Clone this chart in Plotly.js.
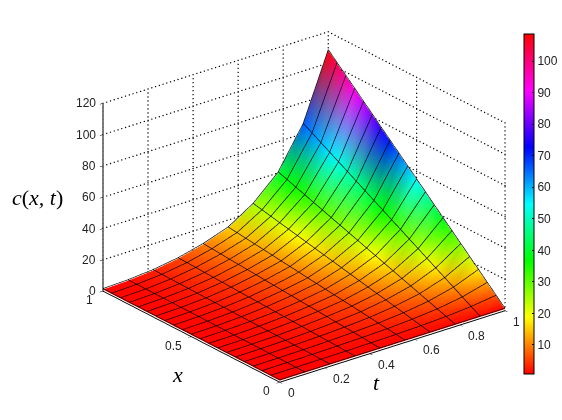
<!DOCTYPE html>
<html>
<head>
<meta charset="utf-8">
<script src="https://cdn.plot.ly/plotly-3.0.1.min.js"></script>
<style>
html, body { margin: 0; padding: 0; background: #fff; }
#graph { width: 562px; height: 420px; }
</style>
</head>
<body>
<div id="graph"></div>
<script>
// grid of the surface
var tGrid = [0, 0.1111, 0.2222, 0.3333, 0.4444, 0.5556, 0.6667, 0.7778, 0.8889, 1];
var xGrid = [0, 0.05, 0.1, 0.15, 0.2, 0.25, 0.3, 0.35, 0.4, 0.45, 0.5, 0.55, 0.6, 0.65, 0.7, 0.75, 0.8, 0.85, 0.9, 0.95, 1];

// c(x,t), one row for each x
var cValues = [
    [1, 1, 1, 1, 1, 1, 1, 1, 1, 1],
    [1, 1, 1.1, 1.2, 1.4, 1.7, 2.2, 3, 4.3, 6.4],
    [1, 1.1, 1.2, 1.5, 1.9, 2.4, 3.4, 4.9, 7.5, 11.7],
    [1, 1.1, 1.3, 1.7, 2.3, 3.1, 4.6, 6.9, 10.8, 17.1],
    [1, 1.1, 1.4, 1.9, 2.7, 3.8, 5.8, 8.8, 14, 22.4],
    [1, 1.2, 1.5, 2.1, 3.1, 4.5, 7, 10.8, 17.3, 27.8],
    [1, 1.2, 1.6, 2.4, 3.6, 5.2, 8.2, 12.7, 20.5, 33.1],
    [1, 1.2, 1.7, 2.6, 4, 5.9, 9.4, 14.7, 23.8, 38.5],
    [1, 1.2, 1.8, 2.8, 4.4, 6.6, 10.6, 16.6, 27, 43.8],
    [1, 1.3, 1.9, 3, 4.8, 7.3, 11.8, 18.6, 30.3, 49.2],
    [1, 1.3, 2, 3.3, 5.3, 8, 13, 20.5, 33.5, 54.5],
    [1, 1.3, 2.1, 3.5, 5.7, 8.7, 14.2, 22.5, 36.8, 59.9],
    [1, 1.4, 2.2, 3.7, 6.1, 9.4, 15.4, 24.4, 40, 65.2],
    [1, 1.4, 2.3, 3.9, 6.5, 10.1, 16.6, 26.4, 43.3, 70.6],
    [1, 1.4, 2.4, 4.2, 7, 10.8, 17.8, 28.3, 46.5, 75.9],
    [1, 1.5, 2.5, 4.4, 7.4, 11.5, 19, 30.3, 49.8, 81.3],
    [1, 1.5, 2.6, 4.6, 7.8, 12.2, 20.2, 32.2, 53, 86.6],
    [1, 1.5, 2.7, 4.8, 8.2, 12.9, 21.4, 34.2, 56.3, 92],
    [1, 1.5, 2.8, 5.1, 8.7, 13.6, 22.6, 36.1, 59.5, 97.3],
    [1, 1.6, 2.9, 5.3, 9.1, 14.3, 23.8, 38.1, 62.8, 102.7],
    [1, 1.6, 3, 5.5, 9.5, 15, 25, 40, 66, 108]
];

var tTicks = [0, 0.2, 0.4, 0.6, 0.8, 1];
var xTicks = [0, 0.5, 1];
var zTicks = [0, 20, 40, 60, 80, 100, 120];
var barTicks = [10, 20, 30, 40, 50, 60, 70, 80, 90, 100];

var cMin = 0.8, cMax = 108.6;

// matlab hsv colormap
var hsv = [[0, '#ff0000'], [1 / 6, '#ffff00'], [1 / 3, '#00ff00'], [0.5, '#00ffff'],
           [2 / 3, '#0000ff'], [5 / 6, '#ff00ff'], [1, '#ff0000']];
var hsvRgb = [[255, 0, 0], [255, 255, 0], [0, 255, 0], [0, 255, 255], [0, 0, 255], [255, 0, 255], [255, 0, 0]];

function colorOf(c) {
    var p = (c - cMin) / (cMax - cMin) * 6;
    var i = Math.min(Math.floor(p), 5), f = p - i;
    var a = hsvRgb[i], b = hsvRgb[i + 1];
    return 'rgb(' + [0, 1, 2].map(function(k) { return Math.round(a[k] + (b[k] - a[k]) * f); }).join(',') + ')';
}

// the surface is a mesh so the colours blend in rgb between the nodes, like the old matlab renderer
var nx = xGrid.length, nt = tGrid.length;
var px = [], py = [], pz = [], pc = [], fi = [], fj = [], fk = [];
xGrid.forEach(function(x, r) {
    tGrid.forEach(function(t, s) {
        px.push(t);
        py.push(x);
        pz.push(cValues[r][s]);
        pc.push(colorOf(cValues[r][s]));
        if (r < nx - 1 && s < nt - 1) {
            var n = r * nt + s;
            fi.push(n, n);
            fj.push(n + 1, n + nt + 1);
            fk.push(n + nt + 1, n + nt);
        }
    });
});

var surface = {
    type: 'mesh3d',
    x: px, y: py, z: pz,
    i: fi, j: fj, k: fk,
    vertexcolor: pc,
    hoverinfo: 'skip',
    lighting: { ambient: 1, diffuse: 0, specular: 0, roughness: 1, fresnel: 0 }
};

// black mesh lines, lifted a little so they stay above the faces
var lift = 0.6;
var lx = [], ly = [], lz = [];
xGrid.forEach(function(x, r) {
    tGrid.forEach(function(t, s) {
        lx.push(t); ly.push(x); lz.push(cValues[r][s] + lift);
    });
    lx.push(null); ly.push(null); lz.push(null);
});
tGrid.forEach(function(t, s) {
    xGrid.forEach(function(x, r) {
        lx.push(t); ly.push(x); lz.push(cValues[r][s] + lift);
    });
    lx.push(null); ly.push(null); lz.push(null);
});
var meshLines = {
    type: 'scatter3d', mode: 'lines', x: lx, y: ly, z: lz,
    line: { color: '#000', width: 1.3 },
    hoverinfo: 'skip', showlegend: false
};

// only here for the colour bar
var barTrace = {
    type: 'scatter3d', mode: 'markers',
    x: [tGrid[0]], y: [xGrid[0]], z: [cValues[0][0]],
    hoverinfo: 'skip', showlegend: false,
    marker: {
        size: 1, opacity: 0, color: [cValues[0][0]],
        colorscale: hsv, cmin: cMin, cmax: cMax, showscale: true,
        colorbar: {
            x: 532 / 562, xanchor: 'left',
            y: (420 - 374) / 420, yanchor: 'bottom',
            len: 340 / 420, lenmode: 'fraction',
            thickness: 10, thicknessmode: 'pixels',
            outlinewidth: 1, outlinecolor: '#000',
            tickvals: barTicks, ticks: 'inside', ticklen: 2, tickcolor: '#000',
            tickfont: { family: 'Liberation Sans', size: 12, color: '#222' },
            xpad: 2, ypad: 0
        }
    }
};

// dotted grid on the two back walls, the dash of scatter3d comes out too long so these are small dots
var dx = [], dy = [], dz = [];
function addDots(x0, y0, z0, x1, y1, z1, count) {
    for (var d = 0; d <= count; d++) {
        var f = d / count;
        dx.push(x0 + (x1 - x0) * f);
        dy.push(y0 + (y1 - y0) * f);
        dz.push(z0 + (z1 - z0) * f);
    }
}
zTicks.forEach(function(z) {
    addDots(0, 1, z, 1, 1, z, 60);
    addDots(1, 1, z, 1, 0, z, 52);
});
tTicks.forEach(function(t) { addDots(t, 1, 0, t, 1, 120, 47); });
xTicks.forEach(function(x) { addDots(1, x, 0, 1, x, 120, 47); });
var gridDots = {
    type: 'scatter3d', mode: 'markers', x: dx, y: dy, z: dz,
    marker: { size: 0.8, color: '#000', line: { width: 0 } },
    hoverinfo: 'skip', showlegend: false
};

var data = [surface, meshLines, barTrace, gridDots];

var tickFont = { family: 'Liberation Sans', size: 12, color: '#222' };
var labels = [];
zTicks.forEach(function(z) {
    labels.push({ x: 0, y: 1, z: z, text: String(z), showarrow: false, xanchor: 'right', xshift: -5, font: tickFont });
});
xTicks.forEach(function(x) {
    labels.push({ x: 0, y: x, z: 0, text: String(x), showarrow: false, xanchor: 'right', xshift: -8, yshift: -9, font: tickFont });
});
tTicks.forEach(function(t) {
    labels.push({ x: t, y: 0, z: 0, text: String(t), showarrow: false, xanchor: 'left', xshift: 6, yshift: -11, font: tickFont });
});

function axis(ticks, range) {
    return {
        range: range, tickvals: ticks, autorange: false,
        showgrid: false, zeroline: false, showbackground: false, showspikes: false,
        showticklabels: false, showline: true, linecolor: '#000', linewidth: 2,
        ticks: 'outside', ticklen: 4, tickcolor: '#000',
        title: { text: '' }
    };
}

var titleFont = { family: 'Liberation Serif', size: 22, color: '#000' };
var layout = {
    width: 562,
    height: 420,
    margin: { l: 0, r: 0, t: 0, b: 0 },
    paper_bgcolor: '#fff',
    showlegend: false,
    scene: {
        domain: { x: [0.104, 1], y: [0.0165, 0.997] },
        aspectmode: 'manual',
        aspectratio: { x: 1.39, y: 1.39, z: 0.997 },
        camera: {
            projection: { type: 'orthographic' },
            eye: { x: -1.13, y: -1.44, z: 0.81 },
            center: { x: 0, y: 0, z: 0 },
            up: { x: 0, y: 0, z: 1 }
        },
        xaxis: axis(tTicks, [0, 1]),
        yaxis: axis(xTicks, [0, 1]),
        zaxis: axis(zTicks, [0, 120]),
        annotations: labels
    },
    annotations: [
        { xref: 'paper', yref: 'paper', x: 38 / 562, y: 1 - 197 / 420, xanchor: 'center', text: '<i>c</i>(<i>x, t</i>)', showarrow: false, font: titleFont },
        { xref: 'paper', yref: 'paper', x: 181 / 562, y: 1 - 389 / 420, xanchor: 'center', text: '<i>x</i>', showarrow: false, font: titleFont },
        { xref: 'paper', yref: 'paper', x: 384 / 562, y: 1 - 397 / 420, xanchor: 'center', text: '<i>t</i>', showarrow: false, font: titleFont }
    ]
};

Plotly.newPlot('graph', data, layout, { displayModeBar: false });
</script>
</body>
</html>
